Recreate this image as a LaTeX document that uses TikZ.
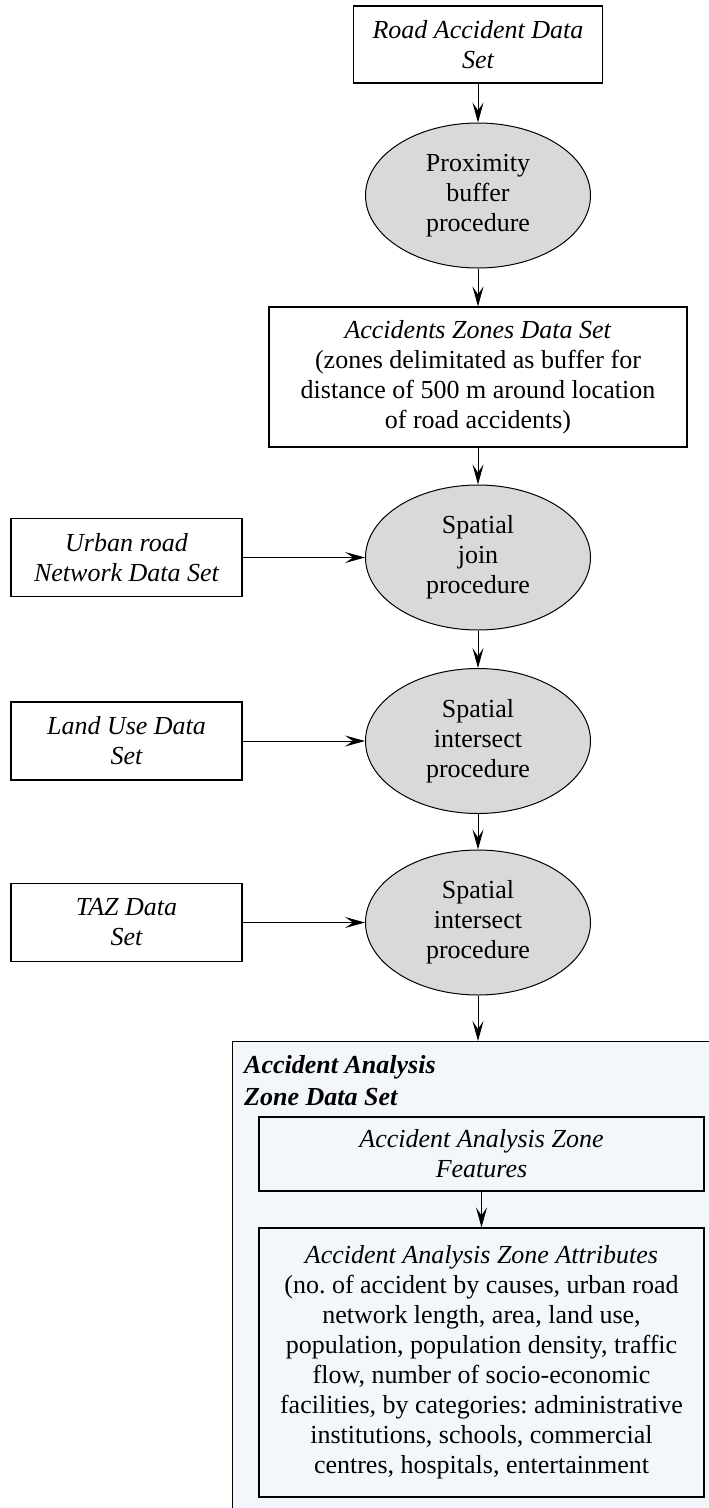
\documentclass[tikz,border=0pt]{standalone}
\usepackage{fontspec}
\setmainfont{Liberation Serif}
\usetikzlibrary{shapes.geometric,arrows.meta}
\definecolor{procgray}{HTML}{D9D9D9}
\definecolor{zonefill}{HTML}{F3F6FA}
\frenchspacing

\begin{document}
\begin{tikzpicture}[x=1pt,y=1pt,
  every node/.style={inner sep=0pt, align=center, font=\fontsize{26}{30}\selectfont},
  dataset/.style={draw, rectangle, line width=1.2pt, minimum height=78pt, font=\fontsize{26}{30}\selectfont\itshape},
  notebox/.style={draw, rectangle, line width=1.2pt},
  proc/.style={draw, ellipse, fill=procgray, line width=1pt, minimum width=225pt, minimum height=145pt},
  arr/.style={-{Stealth[length=20pt,width=11pt,inset=8pt]}, line width=1pt}]
\useasboundingbox (0,0) rectangle (709,-1508);
\node[dataset, minimum width=249pt, minimum height=77pt] (road) at (478,-44.5) {Road Accident Data\\Set};
\node[proc] (prox) at (478,-195.5) {Proximity\\buffer\\procedure};
\node[notebox, minimum width=418pt, minimum height=140pt] (azones) at (478,-377) {\textit{Accidents Zones Data Set}\\(zones delimitated as buffer for\\distance of 500 m around location\\of road accidents)};
\node[proc] (join) at (478,-557.5) {Spatial\\join\\procedure};
\node[dataset, minimum width=231pt] (urban) at (126.5,-557.5) {Urban road\\Network Data Set};
\node[proc] (isect1) at (478,-741) {Spatial\\intersect\\procedure};
\node[dataset, minimum width=231pt] (landuse) at (126.5,-741) {Land Use Data\\Set};
\node[proc] (isect2) at (478,-922.5) {Spatial\\intersect\\procedure};
\node[dataset, minimum width=231pt] (taz) at (126.5,-922.5) {TAZ Data\\Set};
\node[draw, fill=zonefill, line width=1.2pt, minimum width=490pt, minimum height=480pt, anchor=north west] (zone) at (232,-1041) {};
\node[anchor=north west, align=left, font=\fontsize{26}{32}\selectfont\bfseries\itshape] (zonetitle) at (244,-1055) {Accident Analysis\\Zone Data Set};
\node[dataset, fill=zonefill, minimum width=445pt, minimum height=74pt] (feat) at (481.5,-1154) {Accident Analysis Zone\\Features};
\node[notebox, fill=zonefill, minimum width=445pt, minimum height=269pt] (attr) at (481.5,-1362.5) {\textit{Accident Analysis Zone Attributes}\\(no. of accident by causes, urban road\\network length, area, land use,\\population, population density, traffic\\flow, number of socio-economic\\facilities, by categories: administrative\\institutions, schools, commercial\\centres, hospitals, entertainment};
\draw[arr] (road) -- (prox);
\draw[arr] (prox) -- (azones);
\draw[arr] (azones) -- (join);
\draw[arr] (join) -- (isect1);
\draw[arr] (isect1) -- (isect2);
\draw[arr] (isect2) -- (isect2 |- zone.north);
\draw[arr] (urban) -- (join);
\draw[arr] (landuse) -- (isect1);
\draw[arr] (taz) -- (isect2);
\draw[arr] (feat) -- (attr);
\end{tikzpicture}
\end{document}
